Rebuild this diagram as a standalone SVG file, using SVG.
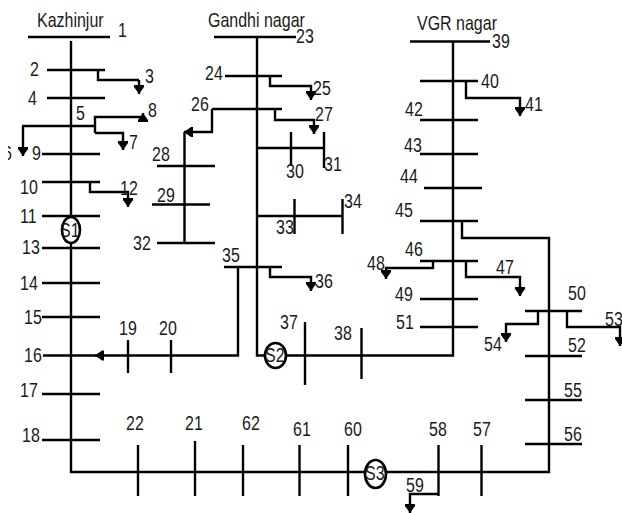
<svg xmlns="http://www.w3.org/2000/svg" width="622" height="513" viewBox="0 0 622 513">
<style>
.b{fill:none;stroke:#000;stroke-width:2.4}
.a{fill:none;stroke:#000;stroke-width:2.4;marker-end:url(#h)}
.s{fill:#fff;stroke:#000;stroke-width:2.6}
text{font-family:"Liberation Sans",Arial,sans-serif;font-size:20.5px;fill:#1a1a1a}
</style>
<defs>
<marker id="h" markerUnits="userSpaceOnUse" markerWidth="10" markerHeight="11" refX="9" refY="5" orient="auto" overflow="visible"><path d="M0 0L2 0L9 5L2 10L0 10Z" fill="#000"/></marker>
<clipPath id="c6"><rect x="8" y="140" width="10" height="30"/></clipPath>
</defs>
<rect width="622" height="513" fill="#fff"/>
<g id="connectors">
<path class="b" d="M71 41V472H549V238H462V221"/>
<path class="b" d="M257 37V355.5H453V41"/>
<path class="b" d="M98 70V80H139"/><path class="a" d="M139 80V94"/>
<path class="b" d="M22 126H95"/><path class="a" d="M23 126V156"/>
<path class="b" d="M95 133V117H143"/><path class="a" d="M143 122V113"/>
<path class="a" d="M95 133H123V150"/>
<path class="a" d="M90 182V192H128V207"/>
<path class="a" d="M238 267V355.5H95"/>
<path class="a" d="M270 76V86H311V100"/>
<path class="a" d="M212 109V132H184"/>
<path class="a" d="M275 109V120H314V134"/>
<path class="b" d="M184.500 132V243"/>
<path class="b" d="M257 148H324"/>
<path class="b" d="M257 216H342.500"/>
<path class="a" d="M270 267V277H311V291"/>
<path class="a" d="M466 81V98H520V116"/>
<path class="a" d="M433 261V268H386V279"/>
<path class="a" d="M466 261V277H520V296"/>
<path class="a" d="M538 311V324H506V342"/>
<path class="a" d="M567 311V327H620V346"/>
<path class="a" d="M438.500 494H410V513"/>
</g>
<g id="bus1"><path class="b" d="M28 37H110"/><text transform="translate(37 26.500) scale(.78 1)">Kazhinjur</text><text transform="translate(118 37) scale(.78 1)">1</text></g>
<g id="bus2"><path class="b" d="M47 70H105"/><text transform="translate(30 76) scale(.78 1)">2</text></g>
<g id="bus3"><text transform="translate(145 83) scale(.78 1)">3</text></g>
<g id="bus4"><path class="b" d="M47 98H105"/><text transform="translate(28 105) scale(.78 1)">4</text></g>
<g id="bus5"><text transform="translate(76 120) scale(.78 1)">5</text></g>
<g id="bus6"><g clip-path="url(#c6)"><text transform="translate(3 160) scale(.78 1)">6</text></g></g>
<g id="bus7"><text transform="translate(129 149) scale(.78 1)">7</text></g>
<g id="bus8"><text transform="translate(148 117) scale(.78 1)">8</text></g>
<g id="bus9"><path class="b" d="M42 154H100"/><text transform="translate(32 160) scale(.78 1)">9</text></g>
<g id="bus10"><path class="b" d="M42 182H100"/><text transform="translate(20 194) scale(.78 1)">10</text></g>
<g id="bus11"><path class="b" d="M42 216H100"/><text transform="translate(20 223) scale(.78 1)">11</text></g>
<g id="bus12"><text transform="translate(120 195) scale(.78 1)">12</text></g>
<g id="bus13"><path class="b" d="M42 248H100"/><text transform="translate(22 254) scale(.78 1)">13</text></g>
<g id="bus14"><path class="b" d="M42 283H100"/><text transform="translate(20 290) scale(.78 1)">14</text></g>
<g id="bus15"><path class="b" d="M42 317H100"/><text transform="translate(24 324) scale(.78 1)">15</text></g>
<g id="bus16"><path class="b" d="M43 355.500H100"/><text transform="translate(24 362) scale(.78 1)">16</text></g>
<g id="bus17"><path class="b" d="M42 394H100"/><text transform="translate(20 397) scale(.78 1)">17</text></g>
<g id="bus18"><path class="b" d="M42 440H100"/><text transform="translate(22 442) scale(.78 1)">18</text></g>
<g id="bus19"><path class="b" d="M128 340V373"/><text transform="translate(119 335) scale(.78 1)">19</text></g>
<g id="bus20"><path class="b" d="M171 340V373"/><text transform="translate(159 335) scale(.78 1)">20</text></g>
<g id="bus21"><path class="b" d="M195 441V496"/><text transform="translate(185 430) scale(.78 1)">21</text></g>
<g id="bus22"><path class="b" d="M138 445V496"/><text transform="translate(126 430) scale(.78 1)">22</text></g>
<g id="bus23"><path class="b" d="M214 37H296"/><text transform="translate(208 26.500) scale(.78 1)">Gandhi nagar</text><text transform="translate(296 43) scale(.78 1)">23</text></g>
<g id="bus24"><path class="b" d="M225 76H282"/><text transform="translate(205 80) scale(.78 1)">24</text></g>
<g id="bus25"><text transform="translate(313 95) scale(.78 1)">25</text></g>
<g id="bus26"><path class="b" d="M212 109H282"/><text transform="translate(191 111) scale(.78 1)">26</text></g>
<g id="bus27"><text transform="translate(315 121) scale(.78 1)">27</text></g>
<g id="bus28"><path class="b" d="M157 166H215"/><text transform="translate(152 161) scale(.78 1)">28</text></g>
<g id="bus29"><path class="b" d="M152 204.500H210"/><text transform="translate(157 202) scale(.78 1)">29</text></g>
<g id="bus30"><path class="b" d="M291 132V166"/><text transform="translate(286 177.500) scale(.78 1)">30</text></g>
<g id="bus31"><path class="b" d="M324 132V168"/><text transform="translate(324 170.500) scale(.78 1)">31</text></g>
<g id="bus32"><path class="b" d="M157 243H215"/><text transform="translate(133 250) scale(.78 1)">32</text></g>
<g id="bus33"><path class="b" d="M294.500 199V234"/><text transform="translate(276 234) scale(.78 1)">33</text></g>
<g id="bus34"><path class="b" d="M342.500 199V234"/><text transform="translate(344 208) scale(.78 1)">34</text></g>
<g id="bus35"><path class="b" d="M224 267H282"/><text transform="translate(222 262) scale(.78 1)">35</text></g>
<g id="bus36"><text transform="translate(315 288) scale(.78 1)">36</text></g>
<g id="bus37"><path class="b" d="M305 322V385"/><text transform="translate(280 329) scale(.78 1)">37</text></g>
<g id="bus38"><path class="b" d="M361.500 328V379"/><text transform="translate(334 339.500) scale(.78 1)">38</text></g>
<g id="bus39"><path class="b" d="M410 41.500H490"/><text transform="translate(417 30) scale(.78 1)">VGR nagar</text><text transform="translate(492 48) scale(.78 1)">39</text></g>
<g id="bus40"><path class="b" d="M420 81H478"/><text transform="translate(481 88) scale(.78 1)">40</text></g>
<g id="bus41"><text transform="translate(525 111) scale(.78 1)">41</text></g>
<g id="bus42"><path class="b" d="M420 120H478"/><text transform="translate(405 116) scale(.78 1)">42</text></g>
<g id="bus43"><path class="b" d="M420 154H478"/><text transform="translate(404 152) scale(.78 1)">43</text></g>
<g id="bus44"><path class="b" d="M424 188H482"/><text transform="translate(400 183) scale(.78 1)">44</text></g>
<g id="bus45"><path class="b" d="M420 221H478"/><text transform="translate(395 217) scale(.78 1)">45</text></g>
<g id="bus46"><path class="b" d="M420 261H478"/><text transform="translate(405 256) scale(.78 1)">46</text></g>
<g id="bus47"><text transform="translate(496 274) scale(.78 1)">47</text></g>
<g id="bus48"><text transform="translate(367 270) scale(.78 1)">48</text></g>
<g id="bus49"><path class="b" d="M420 299H478"/><text transform="translate(395 301) scale(.78 1)">49</text></g>
<g id="bus50"><path class="b" d="M525 311H582"/><text transform="translate(568 300) scale(.78 1)">50</text></g>
<g id="bus51"><path class="b" d="M420 327H478"/><text transform="translate(396 329) scale(.78 1)">51</text></g>
<g id="bus52"><path class="b" d="M525 356H582"/><text transform="translate(568 352) scale(.78 1)">52</text></g>
<g id="bus53"><text transform="translate(605 326) scale(.78 1)">53</text></g>
<g id="bus54"><text transform="translate(484 351) scale(.78 1)">54</text></g>
<g id="bus55"><path class="b" d="M525 400H582"/><text transform="translate(564 396.500) scale(.78 1)">55</text></g>
<g id="bus56"><path class="b" d="M525 444H582"/><text transform="translate(564 441) scale(.78 1)">56</text></g>
<g id="bus57"><path class="b" d="M481.500 445V496"/><text transform="translate(473 436) scale(.78 1)">57</text></g>
<g id="bus58"><path class="b" d="M438.500 445V496"/><text transform="translate(429 436) scale(.78 1)">58</text></g>
<g id="bus59"><text transform="translate(406 492) scale(.78 1)">59</text></g>
<g id="bus60"><path class="b" d="M348 445V496"/><text transform="translate(344 436) scale(.78 1)">60</text></g>
<g id="bus61"><path class="b" d="M299.500 445V496"/><text transform="translate(293 436) scale(.78 1)">61</text></g>
<g id="bus62"><path class="b" d="M243 445V496"/><text transform="translate(242 430) scale(.78 1)">62</text></g>
<g id="s1"><ellipse class="s" cx="71" cy="230" rx="9" ry="13"/><text transform="translate(60 237) scale(.78 1)">S1</text></g>
<g id="s2"><ellipse class="s" cx="275.500" cy="355.500" rx="10.500" ry="12.500"/><text transform="translate(265 362) scale(.78 1)">S2</text></g>
<g id="s3"><ellipse class="s" cx="375.500" cy="474" rx="10.500" ry="14"/><text transform="translate(365 480) scale(.78 1)">S3</text></g>
</svg>
